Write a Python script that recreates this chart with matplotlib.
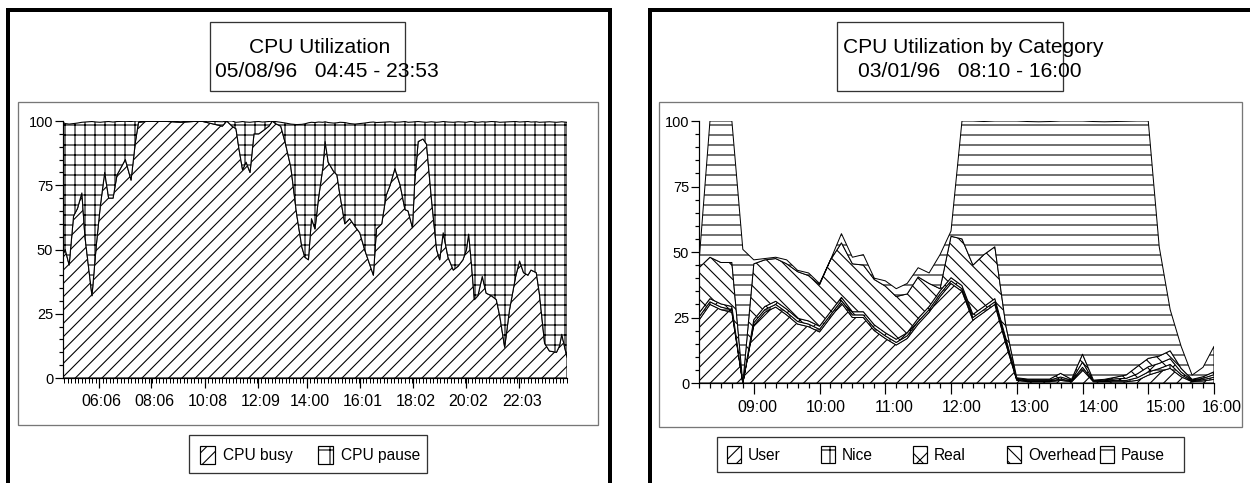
import matplotlib.pyplot as plt
from matplotlib.patches import Rectangle
from matplotlib.ticker import MultipleLocator
from matplotlib.transforms import ScaledTranslation
import numpy as np

plt.rcParams['font.family'] = ['Liberation Sans', 'DejaVu Sans']
plt.rcParams['hatch.color'] = 'black'

# ---------------- grafico 1: CPU Utilization 05/08/96 ----------------
# instantes das amostras em minutos desde 00:00
busy_min = [285, 290, 299, 309, 318, 328, 335, 351, 361, 370,
            380, 389, 399, 408, 427, 440, 450, 457, 484, 507,
            553, 599, 648, 658, 670, 679, 686, 694, 702, 711,
            720, 731, 739, 754, 762, 769, 781, 792, 804, 817,
            829, 836, 844, 851, 859, 867, 877, 882, 889, 901,
            909, 916, 927, 938, 950, 961, 972, 984, 992, 999,
            1011, 1021, 1030, 1041, 1053, 1064, 1071, 1081, 1086, 1094,
            1105, 1113, 1124, 1136, 1143, 1151, 1162, 1174, 1185, 1196,
            1204, 1209, 1215, 1222, 1230, 1240, 1249, 1261, 1272, 1280,
            1291, 1302, 1316, 1325, 1334, 1344, 1351, 1363, 1370, 1382,
            1393, 1409, 1416, 1421, 1427, 1433]
# CPU busy (%)
cpu_busy = [48, 50, 44, 63, 66, 72, 55, 32, 52, 67,
            80, 70, 70, 79, 85, 77, 92, 99.5, 100, 100,
            99.5, 100, 98, 100, 98, 97, 89, 81, 84, 80,
            95, 95, 96, 98, 100, 99, 98, 91, 82, 64,
            51, 47, 46, 62, 58, 70, 82, 92, 84, 80.5,
            79, 71, 60, 62, 59, 56.5, 50, 44, 40, 58,
            60, 71, 75, 81.5, 75, 65.5, 65, 58.5, 76, 92,
            93, 91, 70, 50, 46, 56.5, 47, 42, 43.5, 46,
            50, 56, 45, 30.5, 32, 39.5, 33, 32, 30.5, 24,
            12, 26.5, 39.5, 45.5, 41, 40, 42, 41, 33, 13.5,
            10.5, 10, 12.5, 17, 12.5, 8]
# busy + pause (topo do grafico)
cpu_total = [99.5, 99, 98.8, 99, 99.2, 99.5, 99.6, 99.8, 99.6, 99.5,
             99.7, 99.8, 99.6, 99.8, 99.9, 99.8, 100, 100, 100, 100,
             100, 100, 99.7, 100, 100, 99.5, 99.6, 99.8, 99.6, 99.5,
             99.7, 99.8, 99.6, 99.8, 100, 99.8, 99.5, 99.2, 98.8, 98.6,
             98.7, 98.9, 99.3, 99.5, 99.4, 99.6, 99.5, 99.7, 99.4, 99.2,
             99.3, 99.5, 99.4, 99.0, 98.8, 99.0, 99.2, 99.5, 99.6, 99.4,
             99.5, 99.6, 99.7, 99.5, 99.6, 99.8, 99.5, 99.6, 99.7, 99.8,
             99.6, 99.5, 99.7, 99.5, 99.6, 99.8, 99.6, 99.5, 99.7, 99.6,
             99.5, 99.7, 99.8, 99.6, 99.5, 99.7, 99.6, 99.8, 99.7, 99.5,
             99.6, 99.7, 99.8, 99.6, 99.7, 99.8, 99.6, 99.7, 99.5, 99.6,
             99.7, 99.5, 99.6, 99.7, 99.6, 99.5]
ticks1_min = [366, 486, 608, 729, 840, 961, 1082, 1202, 1323]
ticks1_lbl = ['06:06', '08:06', '10:08', '12:09', '14:00',
              '16:01', '18:02', '20:02', '22:03']

# ---------------- grafico 2: CPU Utilization by Category 03/01/96 ----------------
horas2 = ['08:10', '08:20', '08:30', '08:40', '08:50', '09:00', '09:10', '09:20',
          '09:30', '09:40', '09:50', '10:00', '10:10', '10:20', '10:30', '10:40',
          '10:50', '11:00', '11:10', '11:20', '11:30', '11:40', '11:50', '12:00',
          '12:10', '12:20', '12:30', '12:40', '12:50', '13:00', '13:10', '13:20',
          '13:30', '13:40', '13:50', '14:00', '14:10', '14:20', '14:30', '14:40',
          '14:50', '15:00', '15:10', '15:20', '15:30', '15:40', '15:50', '16:00']
user = [24, 30, 28, 27, 0, 22, 27, 29, 26, 22.5,
        21.5, 19.5, 25, 30.5, 25, 25, 20, 17, 14.5, 17,
        22.5, 27, 33, 38, 35, 24, 27, 30, 15, 1,
        0.5, 0.5, 0.5, 1, 0.5, 5, 0.5, 0.5, 0.5, 0.5,
        1, 3, 4.3, 5.6, 2.4, 0.5, 0.8, 1.4]
nice = [1.2, 1, 1, 1, 0, 1, 1, 1, 1, 1,
        1, 1, 1, 1, 1, 1, 1, 1, 1, 1,
        1, 1, 1, 1, 1, 1, 1, 1, 1, 0.3,
        0.3, 0.3, 0.3, 0.5, 0.3, 1, 0.2, 0.3, 0.5, 0.5,
        1, 1.2, 1.2, 1.5, 0.8, 0.3, 0.5, 0.8]
real = [1.5, 1.2, 1.2, 1.2, 0, 1.2, 1.2, 1.2, 1.2, 1.2,
        1.2, 1.2, 1.2, 1.2, 1.2, 1.2, 1.2, 1.2, 1.2, 1.2,
        1.2, 1.2, 1.2, 1.2, 1.2, 1.2, 1.2, 1.2, 1.2, 0.3,
        0.3, 0.3, 0.3, 0.8, 0.3, 2, 0.2, 0.3, 0.6, 0.8,
        1.5, 2, 2, 2.2, 1, 0.3, 0.5, 1]
# topo da faixa overhead e topo total (pause)
topo_overhead = [44, 48, 46, 46, 0, 45.5, 47, 47.5, 45.5, 42.5,
                 41, 37.5, 47, 53.5, 45.5, 45, 39.5, 37, 33, 34,
                 40.5, 38, 36, 56, 55, 45, 49, 52, 22, 2,
                 1.5, 1.5, 1.5, 3.7, 1.4, 11, 1.1, 1.4, 2.2, 3.1,
                 6.3, 9.4, 10.3, 12.3, 5.6, 1.4, 2.4, 4.3]
topo_total = [46, 100, 100, 100, 51, 47, 47.5, 48, 47, 43,
              42, 38, 47, 57, 48, 49, 40, 39, 36, 38,
              44, 42, 49, 58, 100, 100, 99.8, 100, 100, 100,
              99.8, 99.7, 99.8, 100, 100, 100, 99.8, 99.7, 99.8, 99.9,
              100, 100, 52, 28, 14, 3, 6, 14]
ticks2_lbl = ['09:00', '10:00', '11:00', '12:00', '13:00', '14:00', '15:00', '16:00']

W, H = 1250, 483
DPI = 120
K = 72 / DPI  # pixels -> pontos


def caixa(x0, y0, x1, y1):
    # converte pixels (origem no canto superior esquerdo) para coordenadas da figura
    return [x0 / W, 1 - y1 / H, (x1 - x0) / W, (y1 - y0) / H]


def minutos(h):
    return int(h[:2]) * 60 + int(h[3:])


def desloca_rotulos(ax, desvios):
    # empurra os rotulos do eixo x alguns pixels para a direita
    for rot, d in zip(ax.get_xticklabels(), desvios):
        rot.set_transform(rot.get_transform() + ScaledTranslation(d / DPI, 0, fig.dpi_scale_trans))


plt.rcParams['hatch.linewidth'] = 1.1 * K

fig = plt.figure(figsize=(W / DPI, H / DPI), dpi=DPI)

# camada de fundo em pixels: molduras, titulos e legendas
fundo = fig.add_axes([0, 0, 1, 1], zorder=0)
fundo.set_xlim(0, W)
fundo.set_ylim(H, 0)
fundo.axis('off')

# molduras grossas
fundo.plot([7.5, 7.5, 610, 610], [H, 10, 10, H], color='black', lw=4 * K,
           solid_joinstyle='miter')
fundo.plot([649.5, 649.5, W], [H, 10, 10], color='black', lw=4 * K,
           solid_joinstyle='miter')
# molduras cinzas em volta dos graficos
fundo.add_patch(Rectangle((18, 102), 580, 323, fill=False, ec='#777777', lw=1.3 * K))
fundo.add_patch(Rectangle((659, 102), 583, 325, fill=False, ec='#777777', lw=1.3 * K))
# caixas de titulo
fundo.add_patch(Rectangle((210, 22), 195, 69, fill=False, ec='#333333', lw=1.3 * K))
fundo.add_patch(Rectangle((837, 22), 226, 69, fill=False, ec='#333333', lw=1.3 * K))
fs_tit = 21 * K
fundo.text(320, 53, 'CPU Utilization', ha='center', va='baseline', fontsize=fs_tit)
fundo.text(327, 77, '05/08/96   04:45 - 23:53', ha='center', va='baseline', fontsize=fs_tit)
fundo.text(973, 53, 'CPU Utilization by Category', ha='center', va='baseline', fontsize=fs_tit)
fundo.text(970, 77, '03/01/96   08:10 - 16:00', ha='center', va='baseline', fontsize=fs_tit)

# legendas
fs_leg = 15.5 * K
fundo.add_patch(Rectangle((189, 435), 238, 38, fill=False, ec='#333333', lw=1.3 * K))
fundo.add_patch(Rectangle((717, 437), 467, 35, fill=False, ec='#333333', lw=1.3 * K))
leg1 = [(200, '///', 'CPU busy'), (318, '+', 'CPU pause')]
for x, h, nome in leg1:
    fundo.add_patch(Rectangle((x, 446), 15, 18, fc='white', ec='black', lw=1.2 * K, hatch=h))
    fundo.text(x + 23, 455, nome, ha='left', va='center', fontsize=fs_leg)
leg2 = [(727, '///', 'User'), (821, '+', 'Nice'), (913, 'xx', 'Real'),
        (1007, '\\\\\\', 'Overhead'), (1100, '-', 'Pause')]
for x, h, nome in leg2:
    fundo.add_patch(Rectangle((x, 446), 14, 17, fc='white', ec='black', lw=1.2 * K, hatch=h))
    fundo.text(x + 21, 455, nome, ha='left', va='center', fontsize=fs_leg)


def estilo_eixo(ax):
    for lado in ['top', 'right']:
        ax.spines[lado].set_visible(False)
    for lado in ['left', 'bottom']:
        ax.spines[lado].set_linewidth(1.2 * K)
        ax.spines[lado].set_color('black')
    ax.set_facecolor('none')
    ax.set_ylim(0, 100)
    ax.set_yticks([0, 25, 50, 75, 100])
    ax.yaxis.set_minor_locator(MultipleLocator(5))
    ax.tick_params(axis='y', which='major', length=8 * K, width=1.2 * K, pad=2 * K,
                   labelsize=14.5 * K)
    ax.tick_params(axis='y', which='minor', length=4 * K, width=1.2 * K)


# grafico 1
ax1 = fig.add_axes(caixa(63, 121, 567, 378), zorder=1)
busy = np.array(cpu_busy)
pause = np.array(cpu_total) - busy
ax1.stackplot(busy_min, busy, pause, colors=['white', 'white'], hatch=['///', '++'],
              edgecolor='black', linewidth=1.1 * K)
ax1.set_xlim(285, 1433)
estilo_eixo(ax1)
ax1.set_xticks(ticks1_min, ticks1_lbl)
ax1.xaxis.set_minor_locator(MultipleLocator(8))
ax1.tick_params(axis='x', which='major', length=10 * K, width=1.2 * K, pad=6 * K,
                labelsize=16 * K)
ax1.tick_params(axis='x', which='minor', length=5 * K, width=1 * K)
desloca_rotulos(ax1, [3] * len(ticks1_lbl))

# grafico 2
ax2 = fig.add_axes(caixa(699, 121, 1214, 383), zorder=1)
t2 = [minutos(h) for h in horas2]
u = np.array(user)
n = np.array(nice)
r = np.array(real)
o = np.clip(np.array(topo_overhead) - u - n - r, 0, None)
p = np.array(topo_total) - (u + n + r + o)
ax2.stackplot(t2, u, n, r, o, p, colors=['white'] * 5,
              hatch=['///', '+', 'xx', '\\\\\\', '--'], edgecolor='black',
              linewidth=1.0 * K)
ax2.set_xlim(t2[0], t2[-1])
estilo_eixo(ax2)
ax2.set_xticks([minutos(h) for h in ticks2_lbl], ticks2_lbl)
ax2.xaxis.set_minor_locator(MultipleLocator(10))
ax2.tick_params(axis='x', which='major', length=11 * K, width=1.2 * K, pad=6 * K,
                labelsize=16 * K)
ax2.tick_params(axis='x', which='minor', length=5 * K, width=1.2 * K)
desloca_rotulos(ax2, [4, 6, 9, 11, 13, 16, 17, 8])

plt.savefig('out.png', dpi=DPI)
